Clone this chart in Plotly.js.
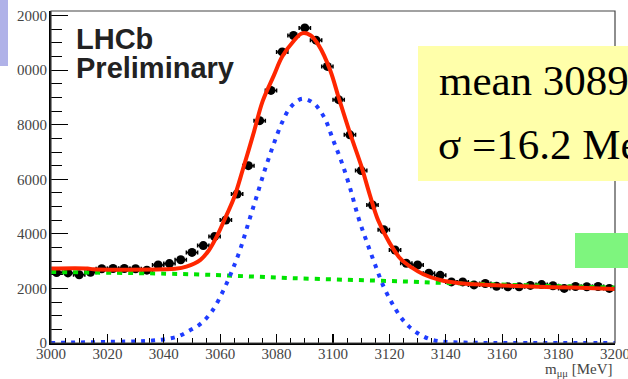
<!DOCTYPE html>
<html><head><meta charset="utf-8">
<script src="https://cdn.plot.ly/plotly-3.0.1.min.js"></script>
<style>html,body{margin:0;padding:0;background:#fff;overflow:hidden}#chart{width:628px;height:379px}</style>
</head><body><div id="chart"></div>
<script>
// Data
const binCenters = [3002,3006,3010,3014,3018,3022,3026,3030,3034,3038,3042,3046,3050,3054,3058,3062,3066,3070,3074,3078,3082,3086,3090,3094,3098,3102,3106,3110,3114,3118,3122,3126,3130,3134,3138,3142,3146,3150,3154,3158,3162,3166,3170,3174,3178,3182,3186,3190,3194,3198];
const counts = [2580,2570,2500,2590,2720,2730,2730,2720,2670,2860,2910,3050,3320,3570,3900,4510,5460,6500,8150,9260,10670,11270,11550,11100,10140,8920,7630,6320,5060,4150,3410,2920,2860,2560,2480,2240,2240,2130,2180,2080,2060,2060,2110,2140,2100,2000,2070,2060,2070,2000];

const fitX = [3000,3013,3015,3040,3044,3048,3053,3056,3059,3062,3065,3068,3072,3075,3079,3082,3086,3089,3092,3095,3099,3102,3106,3110,3113,3116,3120,3124,3128,3132,3138,3145,3155,3170,3185,3200];
const fitY = [2730,2730,2700,2700,2720,2800,3050,3400,3950,4630,5350,6350,7750,8850,9800,10500,11060,11350,11280,10900,10000,9000,7700,6500,5450,4500,3680,3080,2760,2520,2310,2190,2130,2070,2030,1980];

const sigX = [3000,3010,3020,3030,3036,3040,3045,3049,3053,3057,3061,3064,3067,3070,3073,3076,3079,3082,3085,3089,3093,3097,3100,3103,3106,3109,3112,3115,3118,3121,3124,3127,3131,3135,3140,3150,3160,3200];
const sigY = [0,20,40,60,90,130,240,450,700,1150,1900,2600,3400,4400,5400,6400,7300,8100,8650,8950,8800,8250,7450,6650,5700,4600,3700,2850,2050,1450,950,600,300,120,40,10,0,0];

const bkgX = [3000,3050,3085,3124,3140,3200];
const bkgY = [2600,2520,2380,2260,2200,2030];

const xTickVals = [3000,3020,3040,3060,3080,3100,3120,3140,3160,3180,3200];
const yTickVals = [0,2000,4000,6000,8000,10000,12000];

// pixel helpers for the paper coordinate system (plot area 51..615 x 11..343)
const L = 51, R = 615, T = 11, B = 343;
const px = v => (v - L) / (R - L);
const py = v => (B - v) / (B - T);

const traces = [
  {x: binCenters, y: counts, type: 'scatter', mode: 'markers',
   marker: {color: '#000', size: 9, symbol: 'circle'},
   error_x: {type: 'constant', value: 2, color: '#000', thickness: 1.5, width: 2},
   hoverinfo: 'skip', showlegend: false},
  {x: bkgX, y: bkgY, type: 'scatter', mode: 'lines',
   line: {color: '#00e400', width: 4, dash: '5px,6px', shape: 'spline'}, hoverinfo: 'skip', showlegend: false},
  {x: sigX, y: sigY, type: 'scatter', mode: 'lines',
   line: {color: '#1f3cff', width: 4, dash: '4px,6px', shape: 'spline'}, hoverinfo: 'skip', showlegend: false},
  {x: fitX, y: fitY, type: 'scatter', mode: 'lines',
   line: {color: '#ff2600', width: 4, shape: 'spline'}, hoverinfo: 'skip', showlegend: false}
];

const tickFont = {family: 'Liberation Serif, serif', size: 15, color: '#444'};

const layout = {
  width: 628, height: 379,
  margin: {l: L, r: 628 - R, t: T, b: 379 - B, pad: 0},
  paper_bgcolor: '#fff', plot_bgcolor: '#fff',
  showlegend: false,
  xaxis: {range: [3000, 3200], tickvals: xTickVals, ticktext: xTickVals.map(String),
    ticks: 'inside', ticklen: 9, tickwidth: 1.2, tickcolor: '#000', ticklabeloverflow: 'allow', ticklabelstandoff: -4,
    minor: {dtick: 5, tick0: 3000, ticks: 'inside', ticklen: 5, tickwidth: 1, tickcolor: '#000', showgrid: false},
    showline: true, linecolor: '#000', linewidth: 2, showgrid: false, zeroline: false,
    tickfont: tickFont, fixedrange: true},
  yaxis: {range: [0, 12170], tickvals: yTickVals, ticktext: yTickVals.map(String),
    ticks: 'inside', ticklen: 17, tickwidth: 1.2, tickcolor: '#000', ticklabeloverflow: 'allow', ticklabelstandoff: -1,
    minor: {dtick: 500, tick0: 0, ticks: 'inside', ticklen: 11, tickwidth: 1, tickcolor: '#000', showgrid: false},
    showline: true, linecolor: '#000', linewidth: 2, showgrid: false, zeroline: false,
    tickfont: tickFont, fixedrange: true},
  shapes: [
    {type: 'rect', xref: 'paper', yref: 'paper', x0: 0, x1: 1, y0: 0, y1: 1,
     line: {color: '#444', width: 1.2}, fillcolor: 'rgba(0,0,0,0)', layer: 'above'},
    {type: 'rect', xref: 'paper', yref: 'paper', x0: px(8), x1: px(16.4), y0: py(100), y1: py(-10),
     line: {width: 0}, fillcolor: '#ffffff', layer: 'above'},
    {type: 'rect', xref: 'paper', yref: 'paper', x0: px(-10), x1: px(8), y0: py(66), y1: py(-10),
     line: {width: 0}, fillcolor: '#b0b2e8', layer: 'above'},
    {type: 'rect', xref: 'paper', yref: 'paper', x0: px(418), x1: px(640), y0: py(181), y1: py(46),
     line: {width: 0}, fillcolor: '#ffffaa', layer: 'above'},
    {type: 'rect', xref: 'paper', yref: 'paper', x0: px(575), x1: px(640), y0: py(268), y1: py(233),
     line: {width: 0}, fillcolor: '#7ef57e', layer: 'above'}
  ],
  annotations: [
    {text: 'LHCb', xref: 'paper', yref: 'paper', x: px(74), y: py(39), xanchor: 'left', yanchor: 'middle',
     showarrow: false, font: {family: 'Liberation Sans, Arial, sans-serif', size: 29, color: '#222', weight: 'bold'}},
    {text: 'Preliminary', xref: 'paper', yref: 'paper', x: px(74), y: py(68), xanchor: 'left', yanchor: 'middle',
     showarrow: false, font: {family: 'Liberation Sans, Arial, sans-serif', size: 29, color: '#222', weight: 'bold'}},
    {text: 'mean 3089', xref: 'paper', yref: 'paper', x: px(437), y: py(80), xanchor: 'left', yanchor: 'middle',
     showarrow: false, font: {family: 'Liberation Serif, Times New Roman, serif', size: 43, color: '#000'}},
    {text: 'σ =16.2 MeV', xref: 'paper', yref: 'paper', x: px(436), y: py(144), xanchor: 'left', yanchor: 'middle',
     showarrow: false, font: {family: 'Liberation Serif, Times New Roman, serif', size: 43, color: '#000'}},
    {text: 'm<sub>μμ</sub> [MeV]', xref: 'paper', yref: 'paper', x: 1, y: py(370), xanchor: 'right', yanchor: 'middle',
     showarrow: false, font: {family: 'Liberation Serif, serif', size: 15, color: '#444'}}
  ]
};

Plotly.newPlot('chart', traces, layout, {staticPlot: true, displayModeBar: false});
</script>
</body></html>
